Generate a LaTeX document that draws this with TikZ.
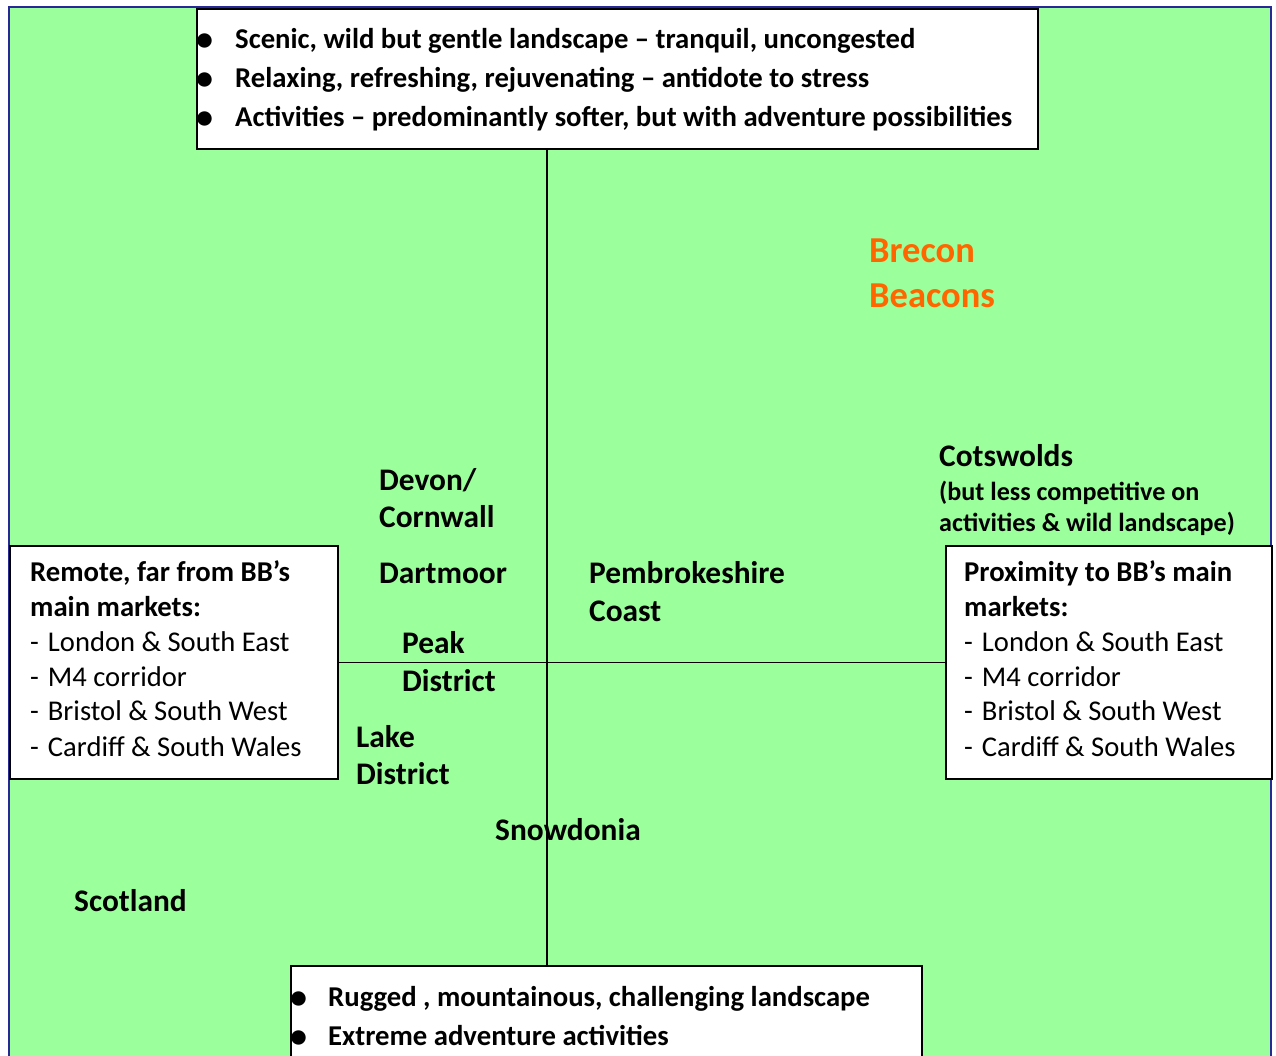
\documentclass[tikz,border=0pt]{standalone}
\usepackage{fontspec}
\setmainfont{Carlito}
\usepackage{tikz}

\definecolor{meadow}{RGB}{155,255,155}
\definecolor{navyline}{RGB}{40,40,150}
\definecolor{breconorange}{RGB}{255,102,0}

\tikzset{
    box/.style={draw=black, line width=1.5pt, fill=white, anchor=north west, inner sep=0pt},
    axis/.style={draw=black, line width=1.3pt},
    txt/.style={anchor=base west, inner sep=0pt},
    dot/.style={txt, font=\fontsize{34}{34}\selectfont\bfseries},
    bullettxt/.style={txt, font=\fontsize{28.7}{34}\selectfont\bfseries},
    boxhead/.style={txt, font=\fontsize{28.7}{32}\selectfont\bfseries},
    boxitem/.style={txt, font=\fontsize{28.6}{32}\selectfont},
    place/.style={txt, font=\fontsize{31.4}{36}\selectfont\bfseries},
    note/.style={txt, font=\fontsize{26.1}{30}\selectfont\bfseries},
    park/.style={txt, font=\fontsize{36.5}{42}\selectfont\bfseries, text=breconorange}
}
\newcommand\dashitem[1]{-\hspace{9pt}#1}

\begin{document}
\begin{tikzpicture}[x=1pt, y=-1pt]
    \useasboundingbox (0,0) rectangle (1276,1055);
    \clip (0,0) rectangle (1276,1055);
    \draw [navyline, line width=1.5pt, fill=meadow] (9,7) rectangle (1271,1100);

    % the four boxes
    \node [box, minimum width=841pt, minimum height=140pt] (scenic) at (196,8) {};
    \node [box, minimum width=328pt, minimum height=233pt] (remote) at (9,545) {};
    \node [box, minimum width=326pt, minimum height=233pt] (proximity) at (945,545) {};
    \node [box, minimum width=631pt, minimum height=140pt] (rugged) at (290,965) {};

    % axes
    \coordinate (cross) at (547,662);
    \draw [axis] (scenic.south -| cross) -- (rugged.north -| cross);
    \draw [axis] (remote.east) -- (proximity.west);

    % top box
    \draw (196,50) node [dot] (b1) {\textbullet};
    \draw (196,89) node [dot] (b2) {\textbullet};
    \draw (196,128) node [dot] (b3) {\textbullet};
    \draw (235,48) node [bullettxt] (scenic1) {Scenic, wild but gentle landscape – tranquil, uncongested};
    \draw (235,87) node [bullettxt] (scenic2) {Relaxing, refreshing, rejuvenating – antidote to stress};
    \draw (235,126) node [bullettxt] (scenic3) {Activities – predominantly softer, but with adventure possibilities};

    % left box
    \draw (30,581) node [boxhead] (remote1) {Remote, far from BB’s};
    \draw (30,616) node [boxhead] (remote2) {main markets:};
    \draw (30,651) node [boxitem] (remote3) {\dashitem{London \& South East}};
    \draw (30,686) node [boxitem] (remote4) {\dashitem{M4 corridor}};
    \draw (30,720) node [boxitem] (remote5) {\dashitem{Bristol \& South West}};
    \draw (30,756) node [boxitem] (remote6) {\dashitem{Cardiff \& South Wales}};

    % right box
    \draw (964,581) node [boxhead] (prox1) {Proximity to BB’s main};
    \draw (964,616) node [boxhead] (prox2) {markets:};
    \draw (964,651) node [boxitem] (prox3) {\dashitem{London \& South East}};
    \draw (964,686) node [boxitem] (prox4) {\dashitem{M4 corridor}};
    \draw (964,720) node [boxitem] (prox5) {\dashitem{Bristol \& South West}};
    \draw (964,756) node [boxitem] (prox6) {\dashitem{Cardiff \& South Wales}};

    % bottom box
    \draw (290,1008) node [dot] (b4) {\textbullet};
    \draw (290,1047) node [dot] (b5) {\textbullet};
    \draw (328,1006) node [bullettxt] (rugged1) {Rugged , mountainous, challenging landscape};
    \draw (328,1045) node [bullettxt] (rugged2) {Extreme adventure activities};

    % parks
    \draw (869,262) node [park] (brecon) {Brecon};
    \draw (869,307) node [park] (beacons) {Beacons};
    \draw (939,466) node [place] (cotswolds) {Cotswolds};
    \draw (939,500) node [note] (cots1) {(but less competitive on};
    \draw (939,531) node [note] (cots2) {activities \& wild landscape)};
    \draw (379,490) node [place] (devon) {Devon/};
    \draw (379,527) node [place] (cornwall) {Cornwall};
    \draw (379,583) node [place] (dartmoor) {Dartmoor};
    \draw (589,583) node [place] (pembroke) {Pembrokeshire};
    \draw (589,621) node [place] (coast) {Coast};
    \draw (402,653) node [place] (peak) {Peak};
    \draw (402,691) node [place] (peakdist) {District};
    \draw (356,747) node [place] (lake) {Lake};
    \draw (356,784) node [place] (lakedist) {District};
    \draw (495,840) node [place] (snowdonia) {Snowdonia};
    \draw (74,911) node [place] (scotland) {Scotland};
\end{tikzpicture}
\end{document}
